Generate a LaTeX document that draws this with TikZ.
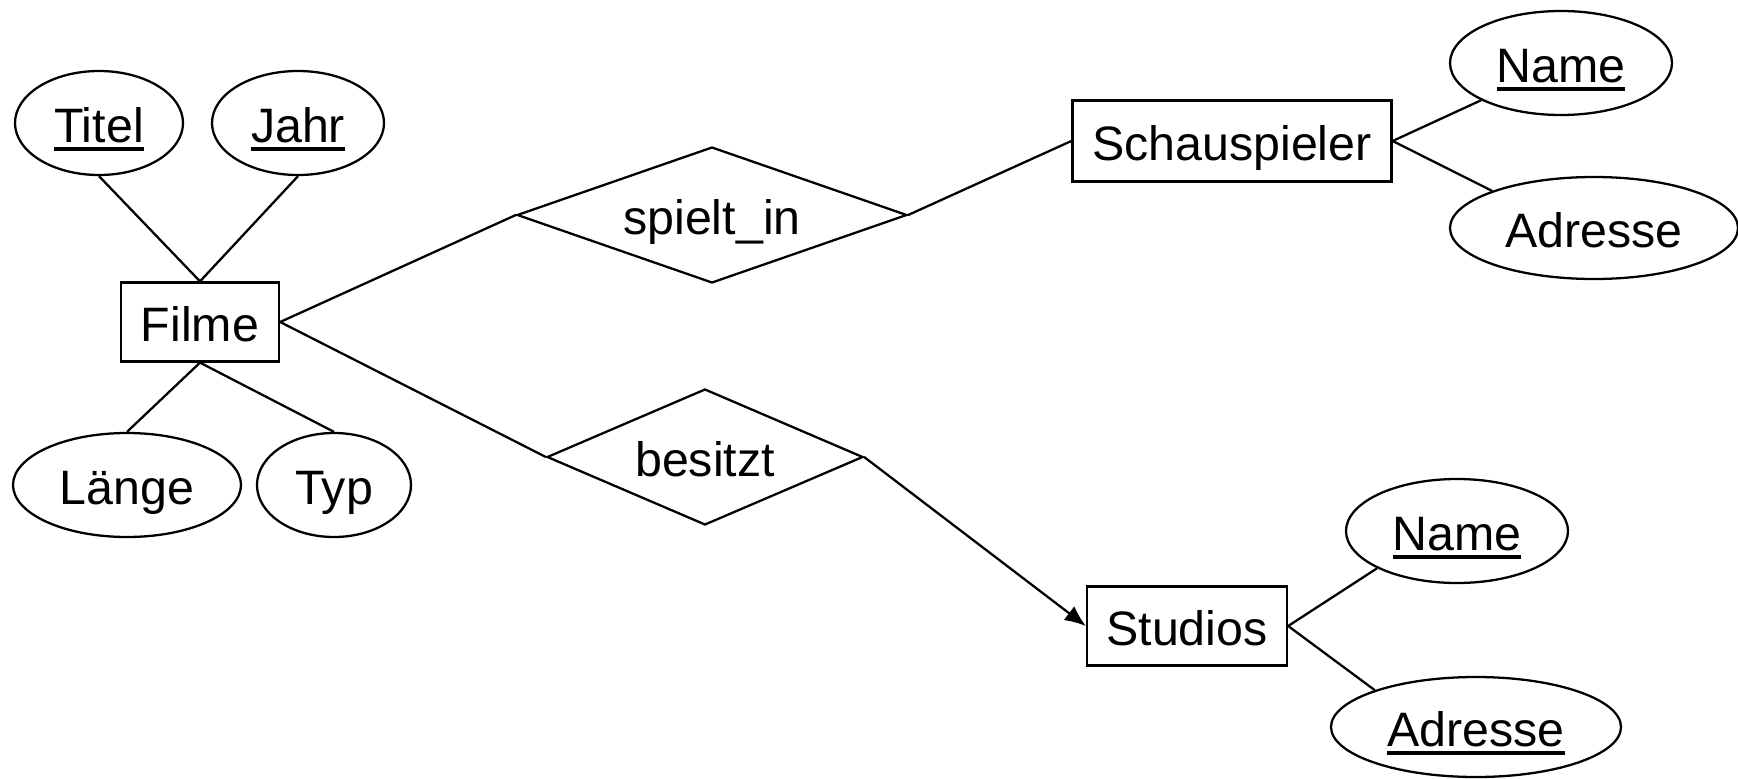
\documentclass[tikz,border=0pt]{standalone}
\usepackage{fontspec}
\setmainfont{Liberation Sans}
\usetikzlibrary{positioning}
\usetikzlibrary{shapes.geometric, arrows.meta}

\newcommand{\keyattr}[1]{\setbox0\hbox{#1}\rlap{\rule[-0.18em]{\wd0}{0.085em}}\box0}

\begin{document}
\begin{tikzpicture}[line width=1.3pt]
    \useasboundingbox (0,0) rectangle (34.76,-15.56);

    \tikzstyle{every node} = [font=\fontsize{27.5}{33}\selectfont, inner sep=0pt, text height=22pt, text depth=0pt];
    \tikzstyle{entity} = [draw, rectangle, minimum height=1.58cm];
    \tikzstyle{attr} = [draw, ellipse, minimum height=2.08cm];
    \tikzstyle{rel} = [draw, diamond, aspect=2.8, minimum height=2.72cm];

    % entities
    \node (filme) at (4.0,-6.44) [entity, minimum width=3.16cm] {Filme};
    \node (schau) at (24.64,-2.82) [entity, minimum width=6.38cm, minimum height=1.62cm] {Schauspieler};
    \node (studios) at (23.74,-12.52) [entity, minimum width=4.0cm] {Studios};

    % attributes
    \node (titel) at (1.98,-2.46) [attr, minimum width=3.36cm] {\keyattr{Titel}};
    \node (jahr) at (5.96,-2.46) [attr, minimum width=3.44cm] {\keyattr{Jahr}};
    \node (laenge) at (2.54,-9.70) [attr, minimum width=4.56cm] {Länge};
    \node (typ) at (6.68,-9.70) [attr, minimum width=3.08cm] {Typ};
    \node (sname) at (31.22,-1.26) [attr, minimum width=4.44cm] {\keyattr{Name}};
    \node (sadr) at (31.88,-4.56) [attr, minimum width=5.76cm, minimum height=2.04cm] {Adresse};
    \node (stname) at (29.14,-10.62) [attr, minimum width=4.44cm] {\keyattr{Name}};
    \node (stadr) at (29.52,-14.54) [attr, minimum width=5.8cm, minimum height=2.0cm] {\keyattr{Adresse}};

    % relationships
    \node (spielt) at (14.24,-4.30) [rel, minimum width=7.8cm] {spielt\_in};
    \node (besitzt) at (14.10,-9.14) [rel, minimum width=6.32cm] {besitzt};

    \draw (titel.south) -- (filme.north);
    \draw (jahr.south) -- (filme.north);
    \draw (laenge.north) -- (filme.south);
    \draw (typ.north) -- (filme.south);

    \draw (filme.east) -- (spielt.west);
    \draw (spielt.east) -- (schau.west);
    \draw (filme.east) -- (besitzt.west);
    \draw[-{Latex[length=12pt,width=10pt]}] (besitzt.east) -- (studios.west);

    \draw (schau.east) -- (sname.205);
    \draw (schau.east) -- (sadr.160);
    \draw (studios.east) -- (stname.205);
    \draw (studios.east) -- (stadr.160);
\end{tikzpicture}
\end{document}
